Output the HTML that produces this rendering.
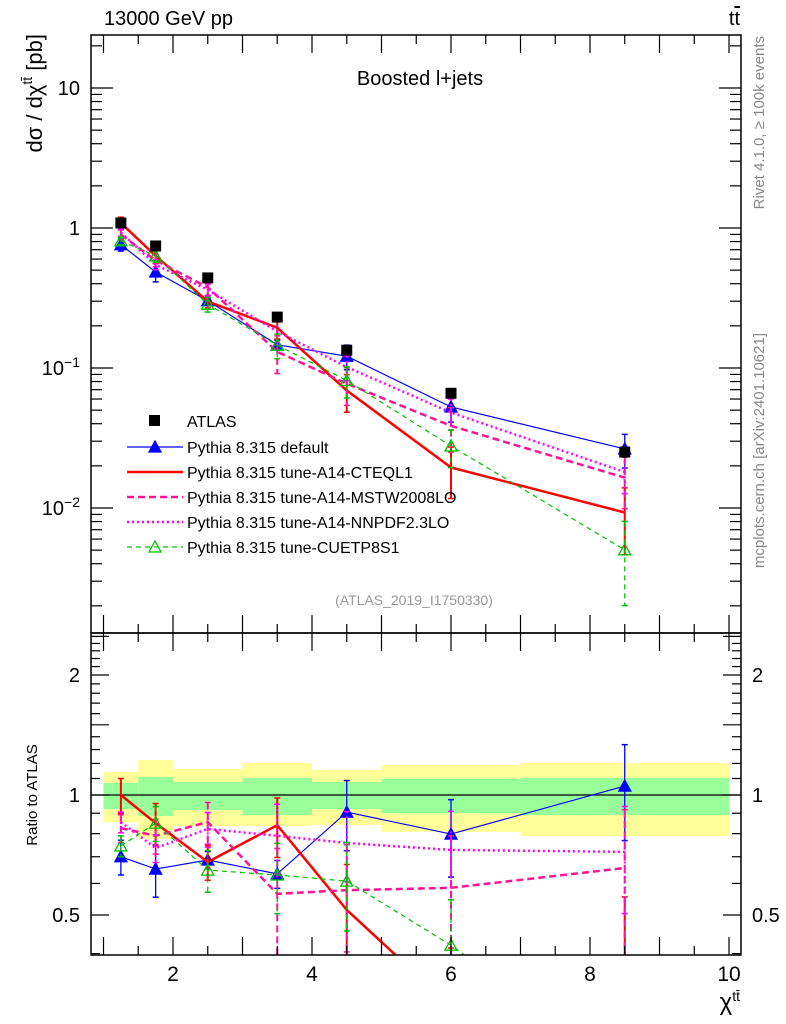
<!DOCTYPE html>
<html><head><meta charset="utf-8"><style>
html,body{margin:0;background:#fff;width:786px;height:1024px;overflow:hidden}
svg{display:block;font-family:"Liberation Sans",sans-serif}
</style></head><body>
<svg id="c" width="786" height="1024" viewBox="0 0 786 1024"></svg>
<script>
const xs=[1.25,1.75,2.5,3.5,4.5,6,8.5];
const binEdges=[1,1.5,2,3,4,5,7,10];
const atlas=[1.086,0.744,0.44,0.231,0.134,0.066,0.0251];
const atlasErr=[0.04,0.04,0.04,0.05,0.06,0.07,0.09];
const yelHi=[1.142,1.224,1.162,1.203,1.155,1.189,1.203];
const grnHi=[1.072,1.109,1.078,1.103,1.078,1.097,1.103];
const grnLo=[0.922,0.886,0.917,0.891,0.922,0.901,0.891];
const yelLo=[0.855,0.776,0.836,0.836,0.841,0.808,0.789];
const rDefault=[0.70,0.652,0.687,0.634,0.906,0.798,1.053];
const rCTEQ=[1.0,0.85,0.679,0.84,0.515,0.295,0.37];
const rMSTW=[0.826,0.79,0.855,0.565,0.577,0.585,0.656];
const rNNPDF=[0.855,0.736,0.822,0.79,0.758,0.728,0.72];
const rCUETP=[0.745,0.85,0.648,0.63,0.608,0.42,0.2];
const eDefault=[0.1,0.15,0.05,0.08,0.2,0.22,0.27];
const eCTEQ=[0.1,0.12,0.1,0.17,0.3,0.4,0.5];
const eMSTW=[0.08,0.1,0.12,0.3,0.3,0.35,0.4];
const eNNPDF=[0.06,0.08,0.1,0.2,0.2,0.25,0.3];
const eCUETP=[0.06,0.1,0.12,0.2,0.25,0.3,0.6];
const xTicks=[2,4,6,8,10];

const NS="http://www.w3.org/2000/svg";
const svg=document.getElementById('c');
function el(t,a,p){const e=document.createElementNS(NS,t);for(const k in a)e.setAttribute(k,a[k]);(p||svg).appendChild(e);return e;}
const L=91,R=741,T=35,M=633,B=955;
const X=v=>173+(v-2)*69.5;
const Y=v=>228-140*Math.log10(v);
const YR=v=>795-398.6*Math.log10(v);

const defs=el('defs',{});
const c1=el('clipPath',{id:'cm'},defs);el('rect',{x:L,y:T,width:R-L,height:M-T},c1);
const c2=el('clipPath',{id:'cr'},defs);el('rect',{x:L,y:M,width:R-L,height:B-M},c2);

const gBand=el('g',{'clip-path':'url(#cr)'});


for(let i=0;i<xs.length;i++){
  const x0=X(binEdges[i]),x1=X(binEdges[i+1]);
  const y=el('rect',{x:x0,y:YR(yelHi[i]),width:x1-x0,height:YR(yelLo[i])-YR(yelHi[i]),fill:'#ffff99'},gBand);
  
  
  const g=el('rect',{x:x0,y:YR(grnHi[i]),width:x1-x0,height:YR(grnLo[i])-YR(grnHi[i]),fill:'#99ff99'},gBand);
  
  
}
el('line',{x1:L,x2:R,y1:YR(1),y2:YR(1),stroke:'#000','stroke-width':1.2});

const series=[
 {name:'pythia-default',r:rDefault,e:eDefault,color:'#0000ff',w:1.2,dash:'',marker:'tri'},
 {name:'pythia-a14-cteql1',r:rCTEQ,e:eCTEQ,color:'#ff0000',w:2.5,dash:'',marker:''},
 {name:'pythia-a14-mstw2008lo',r:rMSTW,e:eMSTW,color:'#ff1493',w:2.5,dash:'7,4',marker:''},
 {name:'pythia-a14-nnpdf23lo',r:rNNPDF,e:eNNPDF,color:'#ff00ff',w:2.5,dash:'2,3',marker:''},
 {name:'pythia-cuetp8s1',r:rCUETP,e:eCUETP,color:'#00c000',w:1.2,dash:'5,4',marker:'otri'}
];
function tri(g,x,y,c,open){const p=`${x},${y-6} ${x-6},${y+5} ${x+6},${y+5}`;return el('polygon',{points:p,fill:open?'none':c,stroke:c,'stroke-width':1.3},g);}

function drawSeries(s,panel){
  const clip=panel==='main'?'url(#cm)':'url(#cr)';
  const top=panel==='main'?T:M, bot=panel==='main'?M:B;
  const g=el('g',{'clip-path':clip});
  
  
  const val=i=>panel==='main'?s.r[i]*atlas[i]:s.r[i];
  const Yf=panel==='main'?Y:YR;
  const cl=y=>Math.min(Math.max(y,top),bot);
  for(let i=0;i<xs.length;i++){
    const v=val(i),hi=v*(1+s.e[i]),lo=Math.max(v*(1-s.e[i]),1e-4);
    const yh=Yf(hi),yl=Yf(lo);
    el('line',{x1:X(xs[i]),x2:X(xs[i]),y1:cl(yh),y2:cl(yl),stroke:s.color,'stroke-width':s.w>2?2:1.3,'stroke-dasharray':s.dash},g);
    if(yh>=top&&yh<=bot)el('line',{x1:X(xs[i])-3,x2:X(xs[i])+3,y1:yh,y2:yh,stroke:s.color,'stroke-width':1.5},g);
    if(yl>=top&&yl<=bot)el('line',{x1:X(xs[i])-3,x2:X(xs[i])+3,y1:yl,y2:yl,stroke:s.color,'stroke-width':1.5},g);
  }
  // build polyline, truncated at the panel bottom
  const pts=[];
  for(let i=0;i<xs.length;i++){
    const x=X(xs[i]),y=Yf(val(i));
    if(y<=bot){pts.push([x,y]);continue;}
    if(pts.length){const [px,py]=pts[pts.length-1];const f=(bot-py)/(y-py);pts.push([px+f*(x-px),bot]);}
    break;
  }
  el('polyline',{points:pts.map(p=>p.join(',')).join(' '),fill:'none',stroke:s.color,'stroke-width':s.w,'stroke-dasharray':s.dash},g);
  if(s.marker)for(let i=0;i<xs.length;i++){const yy=Yf(val(i));if(yy>bot)continue;
    const m=tri(g,X(xs[i]),yy,s.color,s.marker==='otri');
    
    }
}
series.forEach(s=>{drawSeries(s,'main');drawSeries(s,'ratio');});

const gA=el('g',{'clip-path':'url(#cm)'});


for(let i=0;i<xs.length;i++){
  const v=atlas[i];
  el('line',{x1:X(xs[i]),x2:X(xs[i]),y1:Y(v*(1+atlasErr[i])),y2:Y(v*(1-atlasErr[i])),stroke:'#000','stroke-width':1.3},gA);
  const r=el('rect',{x:X(xs[i])-5.5,y:Y(v)-5.5,width:11,height:11,fill:'#000'},gA);
  
  
}

el('rect',{x:L,y:T,width:R-L,height:M-T,fill:'none',stroke:'#000','stroke-width':1.5});
el('rect',{x:L,y:M,width:R-L,height:B-M,fill:'none',stroke:'#000','stroke-width':1.5});

const ax=el('g',{stroke:'#000','stroke-width':1.2});
for(let v=1;v<=10.01;v+=0.5){
  const x=X(v),maj=Math.abs(v-Math.round(v))<1e-6;
  const len=maj?18:9;
  el('line',{x1:x,x2:x,y1:T,y2:T+len},ax);el('line',{x1:x,x2:x,y1:M,y2:M-len},ax);
  el('line',{x1:x,x2:x,y1:M,y2:M+len},ax);el('line',{x1:x,x2:x,y1:B,y2:B-len},ax);
}
xTicks.forEach(v=>{const t=el('text',{x:X(v),y:981,'font-size':21,'text-anchor':'middle'});t.textContent=v;
  
  });

for(let d=-3;d<=1;d++)for(let m=1;m<=9;m++){
  const v=m*Math.pow(10,d),y=Y(v);if(y<T||y>M)continue;
  const len=m===1?22:11;
  el('line',{x1:L,x2:L+len,y1:y,y2:y},ax);el('line',{x1:R,x2:R-len,y1:y,y2:y},ax);
}
function ylab(html,y,x,anchor){const t=el('text',{x:x,y:y+7,'font-size':20,'text-anchor':anchor||'end'});t.innerHTML=html;
  
  return t;}
ylab('10',Y(10),80);ylab('1',Y(1),80);
ylab('10<tspan dy="-8" font-size="14">−1</tspan>',Y(0.1),80);
ylab('10<tspan dy="-8" font-size="14">−2</tspan>',Y(0.01),80);

for(let v=0.4;v<=2.51;v+=0.1){
  const y=YR(v);if(y<M||y>B)continue;
  const maj=[0.5,1,1.5,2,2.5].some(u=>Math.abs(u-v)<1e-6);
  const len=maj?18:9;
  el('line',{x1:L,x2:L+len,y1:y,y2:y},ax);el('line',{x1:R,x2:R-len,y1:y,y2:y},ax);
}
[['2',2],['1',1],['0.5',0.5]].forEach(([s,v])=>{ylab(s,YR(v),80);ylab(s,YR(v),752,'start');});

function txt(s,a,name){const t=el('text',a);t.innerHTML=s;
  
  return t;}
txt('13000 GeV pp',{x:104,y:25,'font-size':20},'energy-label');
txt('t<tspan text-decoration="overline">t</tspan>',{x:740,y:25,'font-size':20,'text-anchor':'end'},'process-label');
txt('Boosted l+jets',{x:420,y:85,'font-size':20,'text-anchor':'middle'},'plot-title');
txt('(ATLAS_2019_I1750330)',{x:414,y:605,'font-size':14,'text-anchor':'middle',fill:'#999'},'analysis-id');
txt('dσ / dχ<tspan dy="-10" font-size="14">tt̄</tspan><tspan dy="10"> [pb]</tspan>',{x:0,y:0,'font-size':22,'text-anchor':'end',transform:'translate(42,34) rotate(-90)'},'y-axis-title');
txt('Ratio to ATLAS',{x:0,y:0,'font-size':15,'text-anchor':'middle',transform:'translate(37,795) rotate(-90)'},'ratio-axis-title');
txt('χ<tspan dy="-9" font-size="14">tt̄</tspan>',{x:740,y:1010,'font-size':24,'text-anchor':'end'},'x-axis-title');
txt('Rivet 4.1.0, ≥ 100k events',{x:0,y:0,'font-size':15,fill:'#888','text-anchor':'end',transform:'translate(764,36) rotate(-90)'},'rivet-label');
txt('mcplots.cern.ch [arXiv:2401.10621]',{x:0,y:0,'font-size':15,fill:'#888','text-anchor':'end',transform:'translate(764,333) rotate(-90)'},'mcplots-label');

const leg=[['ATLAS','#000','','sq',1],['Pythia 8.315 default','#0000ff','','tri',1.2],['Pythia 8.315 tune-A14-CTEQL1','#ff0000','','',2.5],
 ['Pythia 8.315 tune-A14-MSTW2008LO','#ff1493','7,4','',2.5],['Pythia 8.315 tune-A14-NNPDF2.3LO','#ff00ff','2,3','',2.5],['Pythia 8.315 tune-CUETP8S1','#00c000','5,4','otri',1.2]];
const legY=[421,447,472,497,522,547];
leg.forEach((l,i)=>{
  const g=el('g',{});
  
  
  const y=legY[i];
  if(l[3]==='sq'){el('rect',{x:149,y:y-6,width:11,height:11,fill:'#000'},g);}
  else{el('line',{x1:127,x2:183,y1:y,y2:y,stroke:l[1],'stroke-width':l[4],'stroke-dasharray':l[2]},g);
    if(l[3])tri(g,155,y,l[1],l[3]==='otri');}
  const t=el('text',{x:187,y:y+6,'font-size':16},g);t.textContent=l[0];
});
</script>
</body></html>
